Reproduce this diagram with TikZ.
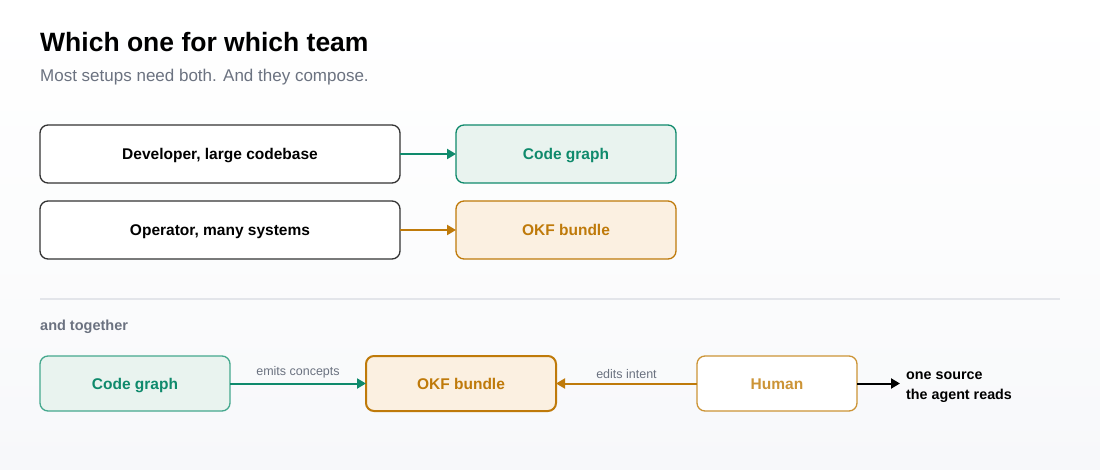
\documentclass[tikz,border=0pt]{standalone}
\usepackage{fontspec}
\setmainfont{Liberation Sans}
\usepackage{xcolor}
\usepackage{tikz}
\usetikzlibrary{positioning,arrows.meta}
\definecolor{codegr}{HTML}{0F8A6C}
\definecolor{codegrlt}{HTML}{45A88E}
\definecolor{codefill}{HTML}{E9F3EF}
\definecolor{okfor}{HTML}{BF7A0A}
\definecolor{okforlt}{HTML}{CC9436}
\definecolor{okffill}{HTML}{FBF0E1}
\definecolor{inkgr}{HTML}{6B7280}
\definecolor{rulegr}{HTML}{E3E5EA}
\definecolor{pagebg}{HTML}{F7F8FA}

\begin{document}
\begin{tikzpicture}[x=1pt, y=-1pt,
  lab/.style={font=\bfseries\fontsize{15.5}{18}\selectfont, rounded corners=8pt, line width=1.3pt, minimum height=58pt, inner sep=0pt, outer sep=0pt, text height=11pt, text depth=0pt},
  team/.style={lab, draw=black!80, fill=white, minimum width=360pt},
  cg/.style={lab, draw=codegr, fill=codefill, text=codegr, minimum width=220pt},
  okf/.style={lab, draw=okfor, fill=okffill, text=okfor, minimum width=220pt},
  small/.style={minimum width=190pt, minimum height=55pt},
  link/.style={line width=2pt, -{Triangle[length=9pt,width=10pt]}},
  note/.style={font=\fontsize{12.5}{14}\selectfont, text=inkgr, inner sep=1pt}]
\shade[top color=white, bottom color=pagebg, middle color=pagebg!40] (0,0) rectangle (1100,470);
\useasboundingbox (0,0) rectangle (1100,470);

\node[anchor=base west, inner sep=0pt, font=\bfseries\fontsize{26.5}{30}\selectfont] (title) at (40,52) {Which one for which team};
\node[anchor=base west, inner sep=0pt, text=inkgr, font=\fontsize{17}{20}\selectfont] (sub) at (40,82) {Most setups need both. And they compose.};

% per team
\node[team, anchor=north west] (dev) at (40,125) {Developer, large codebase};
\node[cg, right=56pt of dev] (cg1) {Code graph};
\node[team, below=18pt of dev] (ops) {Operator, many systems};
\node[okf, right=56pt of ops] (okf1) {OKF bundle};
\draw[link, codegr] (dev) -- (cg1);
\draw[link, okfor] (ops) -- (okf1);

\coordinate (rl) at (40,299);
\coordinate (rr) at (1060,299);
\draw[rulegr, line width=1.2pt] (rl) -- (rr);
\node[anchor=base west, inner sep=0pt, text=inkgr, font=\bfseries\fontsize{14.5}{17}\selectfont] (tog) at (40,330) {and together};

% together
\node[cg, small, draw=codegrlt, anchor=north west] (cg2) at (40,356) {Code graph};
\node[okf, small, line width=2pt, right=136pt of cg2] (okf2) {OKF bundle};
\node[lab, small, draw=okforlt, fill=white, text=okforlt, minimum width=160pt, right=141pt of okf2] (hum) {Human};
\node[align=left, inner sep=0pt, font=\bfseries\fontsize{14.3}{20}\selectfont, right=49pt of hum, yshift=-4pt] (src) {one source\\the agent reads};
\draw[link, codegr] (cg2) -- node[note, above=3pt]{emits concepts} (okf2);
\draw[link, okfor] (hum) -- node[note, above=3pt]{edits intent} (okf2);
\draw[link, black, shorten >=6pt] (hum) -- (hum -| src.west);
\end{tikzpicture}
\end{document}
